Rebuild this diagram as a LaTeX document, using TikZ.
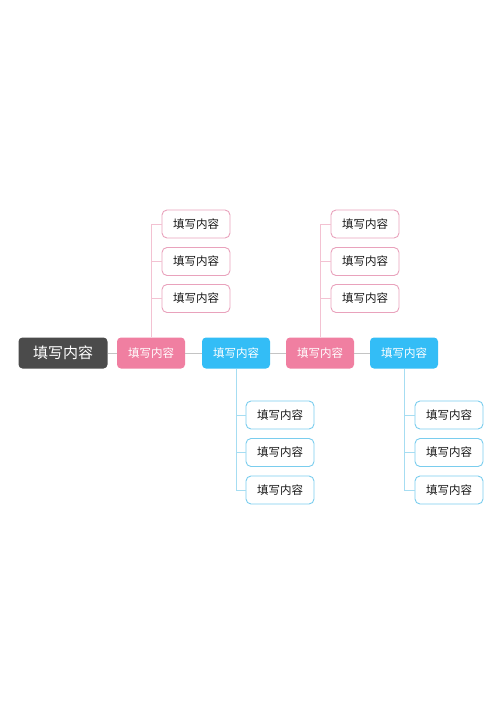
\documentclass[tikz,border=0pt]{standalone}
\usepackage{fontspec}
\setmainfont{Noto Sans CJK SC}
\usepackage{tikz}

\definecolor{rootgray}{HTML}{4B4B4B}
\definecolor{mainpink}{HTML}{F07FA1}
\definecolor{mainblue}{HTML}{33BDF6}
\definecolor{edgepink}{HTML}{E9A2BC}
\definecolor{edgeblue}{HTML}{7ACDEE}
\definecolor{linepink}{HTML}{F3C2D2}
\definecolor{lineblue}{HTML}{A6DDF2}
\definecolor{linegray}{HTML}{C4C4C4}

\tikzset{
    rootbox/.style={rounded corners=4pt, fill=rootgray, text=white, minimum width=89pt, minimum height=31pt, font=\fontsize{15}{15}\selectfont},
    pinkbox/.style={rounded corners=4pt, fill=mainpink, text=white, minimum width=68pt, minimum height=31pt, font=\fontsize{11.5}{12}\selectfont},
    bluebox/.style={pinkbox, fill=mainblue},
    pinkleaf/.style={rounded corners=5pt, draw=edgepink, line width=0.9pt, fill=white, text=black!90, minimum width=68pt, minimum height=28pt, font=\fontsize{11.5}{12}\selectfont},
    blueleaf/.style={pinkleaf, draw=edgeblue},
}

\begin{document}
\begin{tikzpicture}[x=1pt, y=-1pt]
        \useasboundingbox (0,0) rectangle (500,707);
        % main chain
        \node[rootbox] (root) at (63,353) {填写内容};
        \node[pinkbox] (p1) at (151,353) {填写内容};
        \node[bluebox] (b1) at (236,353) {填写内容};
        \node[pinkbox] (p2) at (320,353) {填写内容};
        \node[bluebox] (b2) at (404,353) {填写内容};
        % leaves above the pink nodes
        \foreach \n/\y in {a/224, b/261.5, c/298.5} {
            \node[pinkleaf] (p1\n) at (196,\y) {填写内容};
            \node[pinkleaf] (p2\n) at (365,\y) {填写内容};
        }
        % leaves below the blue nodes
        \foreach \n/\y in {a/415, b/452.5, c/490} {
            \node[blueleaf] (b1\n) at (280,\y) {填写内容};
            \node[blueleaf] (b2\n) at (449,\y) {填写内容};
        }
        \draw[linegray, line width=0.8pt] (root) -- (p1) -- (b1) -- (p2) -- (b2);
        \foreach \p in {p1, p2} {
            \draw[linepink, line width=0.8pt] (\p.north) |- (\p a.west);
            \draw[linepink, line width=0.8pt] (\p.north |- \p b.west) -- (\p b.west);
            \draw[linepink, line width=0.8pt] (\p.north |- \p c.west) -- (\p c.west);
        }
        \foreach \b in {b1, b2} {
            \draw[lineblue, line width=0.8pt] (\b.south) |- (\b c.west);
            \draw[lineblue, line width=0.8pt] (\b.south |- \b a.west) -- (\b a.west);
            \draw[lineblue, line width=0.8pt] (\b.south |- \b b.west) -- (\b b.west);
        }
    \end{tikzpicture}
\end{document}
